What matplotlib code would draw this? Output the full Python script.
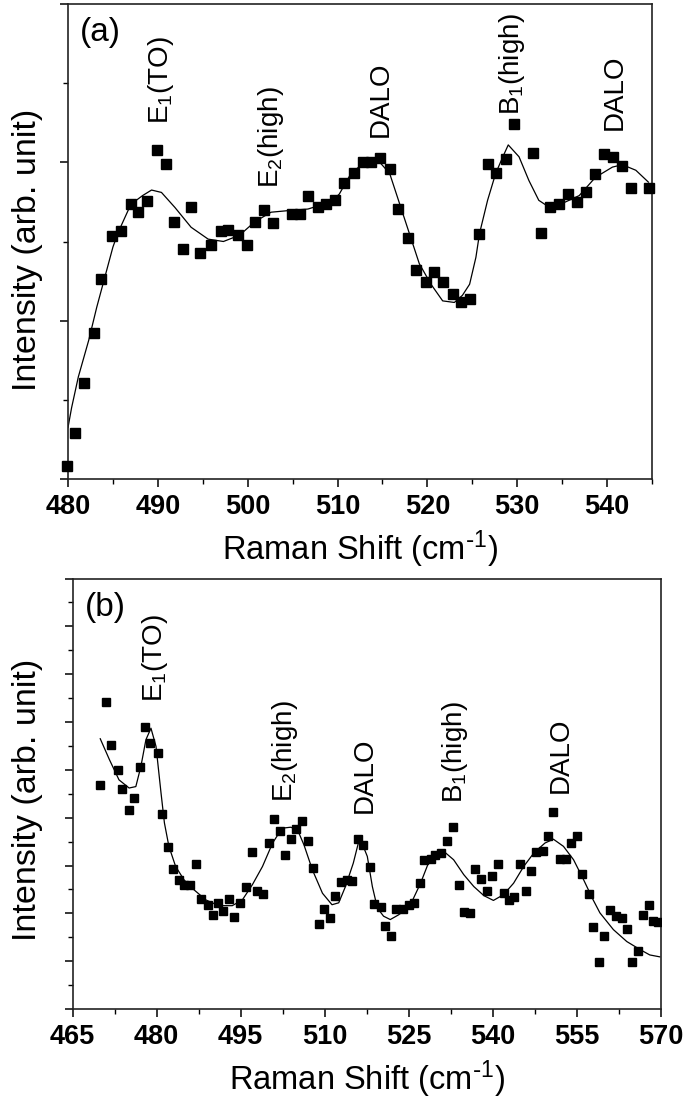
import matplotlib
matplotlib.use("Agg")
import matplotlib.pyplot as plt
from matplotlib.ticker import MultipleLocator, NullFormatter

plt.rcParams['font.family'] = ['Liberation Sans', 'DejaVu Sans']
plt.rcParams['mathtext.default'] = 'regular'

# ---------------- Panel (a) data ----------------
a_x = [479.9, 480.8, 481.8, 482.9, 483.7, 484.9, 485.9, 487.0, 487.8, 488.8,
       489.9, 490.9, 491.8, 492.8, 493.7, 494.7, 495.9, 497.0, 497.8, 498.9,
       499.9, 500.8, 501.8, 502.8, 504.9, 505.8, 506.7, 507.8, 508.7, 509.7,
       510.7, 511.8, 512.8, 513.7, 514.7, 515.8, 516.7, 517.8, 518.7, 519.9,
       520.7, 521.7, 522.8, 523.7, 524.7, 525.8, 526.7, 527.6, 528.7, 529.6,
       531.7, 532.7, 533.6, 534.7, 535.7, 536.7, 537.7, 538.7, 539.7, 540.7,
       541.7, 542.7, 544.7]
a_y = [0.17, 0.58, 1.21, 1.85, 2.53, 3.07, 3.13, 3.47, 3.37, 3.51,
       4.16, 3.98, 3.25, 2.91, 3.44, 2.86, 2.95, 3.13, 3.15, 3.08,
       2.95, 3.25, 3.40, 3.23, 3.35, 3.35, 3.58, 3.43, 3.48, 3.52,
       3.74, 3.86, 4.01, 4.01, 4.05, 3.91, 3.41, 3.05, 2.64, 2.49,
       2.62, 2.49, 2.34, 2.23, 2.27, 3.09, 3.98, 3.86, 4.04, 4.48,
       4.12, 3.11, 3.43, 3.48, 3.60, 3.50, 3.62, 3.85, 4.11, 4.07,
       3.95, 3.68, 3.68]

a_fit_x = [480.0, 480.4, 481.15, 482.3, 483.2, 484.1, 485.0, 485.6, 487.0, 488.3,
           489.3, 490.4, 491.9, 493.7, 495.6, 497.3, 499.1, 500.8, 502.6, 504.5,
           506.7, 509.3, 510.2, 511.5, 513.0, 513.9, 514.7, 515.8, 516.9, 518.0,
           519.1, 520.4, 521.7, 523.0, 523.9, 524.7, 525.4, 525.8, 526.7, 527.6,
           528.4, 529.0, 530.2, 531.3, 532.4, 533.6, 535.0, 536.9, 538.7, 540.6,
           541.7, 543.2, 544.6]
a_fit_y = [0.65, 0.90, 1.29, 1.75, 2.17, 2.55, 2.93, 3.12, 3.47, 3.58,
           3.65, 3.62, 3.43, 3.18, 3.03, 3.00, 3.08, 3.25, 3.37, 3.39,
           3.41, 3.50, 3.60, 3.86, 4.00, 4.03, 4.00, 3.86, 3.48, 3.10,
           2.72, 2.46, 2.25, 2.23, 2.32, 2.46, 2.80, 3.10, 3.52, 3.86,
           4.07, 4.22, 4.07, 3.77, 3.52, 3.43, 3.48, 3.58, 3.81, 3.94,
           3.97, 3.90, 3.75]

a_labels = [r'E$_1$(TO)', r'E$_2$(high)', 'DALO', r'B$_1$(high)', 'DALO']
a_label_x = [490.4, 502.6, 514.8, 529.4, 540.9]
a_label_y = [4.49, 3.67, 4.32, 4.60, 4.41]

# ---------------- Panel (b) data ----------------
b_x = [469.95, 471.0, 471.9, 473.05, 473.9, 475.0, 475.9, 477.0, 478.0, 478.9,
       480.2, 480.9, 482.1, 483.0, 484.0, 484.9, 486.0, 487.0, 487.9, 489.1,
       490.0, 491.0, 491.9, 492.9, 493.9, 494.9, 495.9, 497.0, 497.9, 498.9,
       500.1, 500.9, 502.0, 502.9, 503.9, 504.8, 505.9, 507.0, 507.9, 509.0,
       509.9, 510.9, 511.9, 512.95, 513.9, 514.9, 516.0, 516.9, 518.0, 518.8,
       520.0, 520.8, 521.9, 522.8, 523.9, 525.0, 525.9, 526.95, 527.8, 528.9,
       529.7, 530.8, 531.9, 532.8, 533.9, 534.8, 536.0, 536.75, 537.9, 538.96,
       539.8, 540.9, 541.9, 542.9, 543.8, 544.9, 545.9, 546.8, 547.7, 548.9,
       549.9, 550.7, 551.9, 553.0, 553.9, 554.99, 555.9, 557.1, 557.8, 558.96,
       559.85, 560.9, 561.99, 563.0, 563.9, 564.9, 565.96, 566.85, 567.9, 568.6,
       569.5]
b_y = [4.69, 6.42, 5.52, 5.00, 4.60, 4.15, 4.41, 5.06, 5.89, 5.56,
       5.36, 4.08, 3.39, 2.93, 2.70, 2.60, 2.60, 3.03, 2.30, 2.18,
       1.97, 2.21, 2.04, 2.30, 1.92, 2.21, 2.56, 3.28, 2.47, 2.41,
       3.48, 3.98, 3.73, 3.22, 3.55, 3.76, 3.94, 3.52, 2.95, 1.78,
       2.09, 1.90, 2.37, 2.65, 2.70, 2.67, 3.55, 3.43, 2.96, 2.20,
       2.14, 1.74, 1.52, 2.10, 2.10, 2.17, 2.21, 2.63, 3.12, 3.14,
       3.21, 3.26, 3.52, 3.80, 2.60, 2.03, 2.01, 2.93, 2.72, 2.47,
       2.79, 3.03, 2.42, 2.28, 2.34, 3.03, 2.46, 2.89, 3.28, 3.31,
       3.62, 4.11, 3.13, 3.13, 3.47, 3.62, 2.83, 2.40, 1.71, 0.98,
       1.53, 2.08, 1.95, 1.91, 1.68, 0.98, 1.22, 1.97, 2.17, 1.85,
       1.81]

b_fit_x = [469.95, 471.6, 473.3, 475.1, 476.3, 477.2, 478.1, 479.0, 479.9, 480.8,
           481.4, 482.2, 483.4, 484.9, 486.7, 488.8, 491.1, 493.5, 495.3, 497.1,
           498.9, 500.7, 502.4, 503.9, 505.1, 506.3, 507.8, 509.6, 511.3, 512.5,
           513.7, 515.1, 516.0, 516.4, 517.6, 518.5, 519.4, 520.5, 521.7, 523.2,
           525.3, 527.1, 528.6, 530.05, 531.5, 533.0, 534.8, 536.6, 538.4, 540.1,
           541.9, 543.7, 545.5, 547.3, 549.3, 550.8, 552.6, 554.4, 556.2, 557.9,
           559.1, 561.5, 563.9, 566.3, 568.0, 569.8]
b_fit_y = [5.65, 5.21, 4.79, 4.62, 4.65, 5.07, 5.63, 5.87, 5.49, 4.51,
           3.89, 3.40, 2.98, 2.70, 2.49, 2.28, 2.16, 2.16, 2.28, 2.60,
           2.98, 3.47, 3.78, 3.80, 3.76, 3.43, 2.91, 2.42, 2.18, 2.22,
           2.56, 3.05, 3.47, 3.54, 3.19, 2.56, 2.11, 1.94, 1.87, 1.97,
           2.18, 2.63, 3.08, 3.26, 3.27, 3.12, 2.81, 2.56, 2.37, 2.27,
           2.39, 2.63, 2.98, 3.26, 3.47, 3.55, 3.40, 3.12, 2.70, 2.28,
           2.01, 1.66, 1.41, 1.24, 1.13, 1.09]

b_labels = [r'E$_1$(TO)', r'E$_2$(high)', 'DALO', r'B$_1$(high)', 'DALO']
b_label_x = [479.7, 502.9, 517.2, 533.2, 552.1]
b_label_y = [6.42, 4.33, 4.10, 4.31, 4.52]

xlabel = r'Raman Shift (cm$^{\text{-}1}$)'
ylabel = 'Intensity (arb. unit)'

W, H = 688, 1101
fig = plt.figure(figsize=(W / 100, H / 100), dpi=100)


def rect(l, r, t, b):
    return [l / W, 1 - b / H, (r - l) / W, (b - t) / H]


def style(ax):
    for s in ax.spines.values():
        s.set_linewidth(1.2)
        s.set_color('#222222')
    ax.tick_params(which='major', direction='out', length=6, width=1.1,
                   labelsize=19.5, pad=5, left=True, bottom=True,
                   top=False, right=False)
    ax.tick_params(which='minor', direction='out', length=3.5, width=1.0,
                   left=True, bottom=True, top=False, right=False)
    ax.yaxis.set_major_formatter(NullFormatter())
    for lab in ax.get_xticklabels():
        lab.set_fontweight('bold')


# Panel (a)
axa = fig.add_axes(rect(68, 652, 4, 479))
axa.plot(a_fit_x, a_fit_y, color='black', lw=0.9, zorder=2)
axa.plot(a_x, a_y, ls='none', marker='s', ms=6.5, color='black', zorder=3,
         clip_on=False)
axa.set_xlim(480, 545)
axa.set_ylim(0, 6)
axa.xaxis.set_major_locator(MultipleLocator(10))
axa.xaxis.set_minor_locator(MultipleLocator(5))
axa.yaxis.set_major_locator(MultipleLocator(2))
axa.yaxis.set_minor_locator(MultipleLocator(1))
style(axa)
axa.set_xlabel(xlabel, fontsize=23.5, labelpad=6)
axa.text(483.6, 5.64, '(a)', fontsize=24, ha='center', va='center')
for t, x, y in zip(a_labels, a_label_x, a_label_y):
    axa.text(x, y, t, rotation=90, fontsize=20, ha='center', va='bottom')

# Panel (b)
axb = fig.add_axes(rect(72.5, 661, 578.5, 1009))
axb.plot(b_fit_x, b_fit_y, color='black', lw=0.9, zorder=2)
axb.plot(b_x, b_y, ls='none', marker='s', ms=5.2, color='black', zorder=3)
axb.set_xlim(465, 570)
axb.set_ylim(0, 9)
axb.xaxis.set_major_locator(MultipleLocator(15))
axb.xaxis.set_minor_locator(MultipleLocator(7.5))
axb.yaxis.set_major_locator(MultipleLocator(1))
axb.yaxis.set_minor_locator(MultipleLocator(0.5))
style(axb)
axb.set_xlabel(xlabel, fontsize=23.5, labelpad=6)
axb.text(470.8, 8.39, '(b)', fontsize=24, ha='center', va='center')
for t, x, y in zip(b_labels, b_label_x, b_label_y):
    axb.text(x, y, t, rotation=90, fontsize=20, ha='center', va='bottom')

fig.text(28 / W, 1 - 250 / H, ylabel, rotation=90, fontsize=24.5,
         ha='center', va='center')
fig.text(28 / W, 1 - 800 / H, ylabel, rotation=90, fontsize=24.5,
         ha='center', va='center')

fig.savefig('out.png', dpi=100)
